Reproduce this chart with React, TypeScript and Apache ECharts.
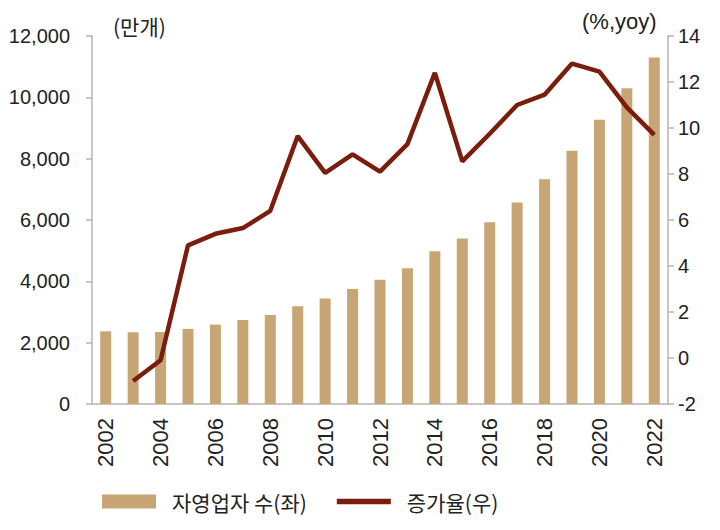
import React, { useEffect, useRef } from "react";
import * as echarts from "echarts";

const years = ["2002","2003","2004","2005","2006","2007","2008","2009","2010","2011","2012","2013","2014","2015","2016","2017","2018","2019","2020","2021","2022"];
const selfEmployed = [2370, 2340, 2345, 2450, 2590, 2740, 2905, 3190, 3440, 3750, 4055, 4425, 4985, 5400, 5930, 6570, 7330, 8260, 9270, 10300, 11300];
const growthRate: (number | null)[] = [null, -1.0, -0.1, 4.9, 5.4, 5.65, 6.4, 9.65, 8.05, 8.85, 8.1, 9.3, 12.4, 8.55, 9.75, 11.0, 11.45, 12.8, 12.45, 10.9, 9.7];
const leftTicks = { min: 0, max: 12000, interval: 2000 };
const rightTicks = { min: -2, max: 14, interval: 2 };

const BAR = "#C8A574";
const LINE = "#7A1D0C";
const AXIS = "#B4B4B4";
const TXT = "#222222";
const LAT = "'Liberation Sans', Arial, sans-serif";
const KR = "'Noto Sans CJK KR', sans-serif";

export default function App() {
  const ref = useRef<HTMLDivElement>(null);
  useEffect(() => {
    document.body.style.margin = "0";
    const chart = echarts.init(ref.current!, null, { renderer: "svg" });
    chart.setOption({
      animation: false,
      backgroundColor: "#ffffff",
      grid: { left: 92, right: 52, top: 36, bottom: 126, containLabel: false },
      legend: {
        left: 97,
        top: 486,
        itemWidth: 54,
        itemHeight: 14,
        itemGap: 30,
        textStyle: { fontSize: 21, fontFamily: KR, color: TXT, padding: [0, 0, 0, 11] },
        data: [
          { name: "자영업자 수(좌)", icon: "rect" },
          { name: "증가율(우)", icon: "path://M0,0H60V6H0Z" },
        ],
      },
      xAxis: {
        type: "category",
        data: years,
        boundaryGap: true,
        axisLine: { lineStyle: { color: AXIS, width: 1.5 } },
        axisTick: { interval: 1, length: 6, lineStyle: { color: AXIS, width: 1.5 } },
        axisLabel: { interval: 1, rotate: 90, fontSize: 22, fontFamily: LAT, color: TXT, margin: 14 },
        splitLine: { show: false },
      },
      yAxis: [
        {
          type: "value",
          min: leftTicks.min,
          max: leftTicks.max,
          interval: leftTicks.interval,
          axisLine: { show: true, lineStyle: { color: AXIS, width: 1.5 } },
          axisTick: { show: true, length: 6, lineStyle: { color: AXIS, width: 1.5 } },
          axisLabel: {
            fontSize: 20,
            fontFamily: LAT,
            color: TXT,
            margin: 22,
            formatter: (v: number) => v.toLocaleString("en-US"),
          },
          splitLine: { show: false },
        },
        {
          type: "value",
          position: "right",
          min: rightTicks.min,
          max: rightTicks.max,
          interval: rightTicks.interval,
          axisLine: { show: true, lineStyle: { color: AXIS, width: 1.5 } },
          axisTick: { show: true, length: 6, lineStyle: { color: AXIS, width: 1.5 } },
          axisLabel: { fontSize: 20, fontFamily: LAT, color: TXT, margin: 10 },
          splitLine: { show: false },
        },
      ],
      graphic: [
        { type: "text", left: 113, top: 15, style: { text: "(만개)", fontSize: 21, fontFamily: KR, fill: TXT } },
        { type: "text", left: 582, top: 10, style: { text: "(%,yoy)", fontSize: 22, fontFamily: LAT, fill: TXT } },
      ],
      series: [
        {
          name: "자영업자 수(좌)",
          type: "bar",
          data: selfEmployed,
          barWidth: 11,
          itemStyle: { color: BAR },
          yAxisIndex: 0,
        },
        {
          name: "증가율(우)",
          type: "line",
          data: growthRate,
          yAxisIndex: 1,
          symbol: "none",
          lineStyle: { color: LINE, width: 4.5 },
          itemStyle: { color: LINE },
          z: 5,
        },
      ],
    });
    return () => chart.dispose();
  }, []);
  return <div ref={ref} style={{ width: 720, height: 530 }} />;
}
